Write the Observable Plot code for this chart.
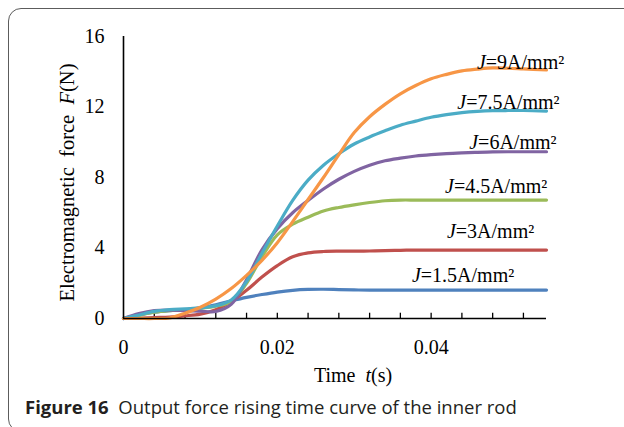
<!DOCTYPE html>
<html>
<head>
<meta charset="utf-8">
<script src="https://cdn.jsdelivr.net/npm/d3@7"></script>
<script src="https://cdn.jsdelivr.net/npm/@observablehq/plot@0.6"></script>
<style>
  html, body { margin: 0; padding: 0; background: #fff; }
  body { width: 624px; height: 427px; overflow: hidden; position: relative; }
  #frame { position: absolute; left: 8px; top: 8px; width: 700px; height: 424px;
           border: 1.5px solid #5c5c5c; border-radius: 13px; box-sizing: border-box; }
  #chart { position: absolute; left: 0; top: 0; }
  #caption { position: absolute; left: 25px; top: 398px; font-family: "Open Sans", sans-serif;
             font-size: 18.5px; line-height: 18.5px; color: #231f20; white-space: pre; letter-spacing: 0px; }
  #caption b { font-weight: 700; }
</style>
</head>
<body>
<div id="frame"></div>
<div id="chart"></div>
<div id="caption"><b>Figure 16</b>  Output force rising time curve of the inner rod</div>
<script>
// ---- data ----
const times = [0, 0.002, 0.004, 0.006, 0.008, 0.010, 0.012, 0.014, 0.016, 0.018, 0.020, 0.022, 0.024, 0.026,
               0.028, 0.030, 0.032, 0.034, 0.036, 0.038, 0.040, 0.042, 0.044, 0.046, 0.048, 0.050, 0.052, 0.055];
const forceJ15 = [0, 0.2, 0.36, 0.45, 0.5, 0.6, 0.78, 1.0, 1.2, 1.36, 1.5, 1.6, 1.65, 1.66,
                  1.64, 1.62, 1.61, 1.61, 1.61, 1.61, 1.61, 1.61, 1.61, 1.61, 1.61, 1.61, 1.61, 1.61];
const forceJ3  = [0, 0.02, 0.05, 0.08, 0.15, 0.25, 0.5, 0.95, 1.6, 2.35, 3.0, 3.5, 3.72, 3.8,
                  3.82, 3.82, 3.83, 3.85, 3.87, 3.88, 3.88, 3.88, 3.88, 3.88, 3.88, 3.88, 3.88, 3.88];
const forceJ45 = [0, 0.18, 0.36, 0.45, 0.5, 0.58, 0.7, 0.95, 2.0, 3.5, 4.75, 5.35, 5.75, 6.1,
                  6.3, 6.45, 6.58, 6.68, 6.72, 6.72, 6.72, 6.72, 6.72, 6.72, 6.72, 6.72, 6.72, 6.72];
const forceJ6  = [0, 0.28, 0.45, 0.48, 0.45, 0.42, 0.4, 0.8, 2.2, 3.9, 5.1, 6.0, 6.7, 7.35,
                  7.9, 8.35, 8.7, 8.95, 9.1, 9.22, 9.3, 9.36, 9.4, 9.43, 9.45, 9.46, 9.46, 9.46];
const forceJ75 = [0, 0.2, 0.4, 0.5, 0.55, 0.6, 0.72, 1.05, 2.1, 3.7, 5.25, 6.7, 7.85, 8.7,
                  9.35, 9.9, 10.3, 10.65, 10.97, 11.2, 11.42, 11.57, 11.68, 11.75, 11.79, 11.8, 11.8, 11.77];
const forceJ9  = [0, 0, 0, 0.03, 0.3, 0.64, 1.1, 1.7, 2.45, 3.3, 4.3, 5.5, 6.75, 8.0,
                  9.3, 10.55, 11.45, 12.15, 12.75, 13.22, 13.6, 13.85, 14.05, 14.15, 14.22, 14.2, 14.16, 14.1];

const seriesNames  = ["J=1.5A/mm²", "J=3A/mm²", "J=4.5A/mm²", "J=6A/mm²", "J=7.5A/mm²", "J=9A/mm²"];
const seriesValues = [forceJ15, forceJ3, forceJ45, forceJ6, forceJ75, forceJ9];
const seriesColors = ["#4F81BD", "#C0504D", "#9BBB59", "#8064A2", "#4BACC6", "#F79646"];
// label anchor (right end, vertical centre) in data units
const labelT = [0.0508, 0.0534, 0.0551, 0.0563, 0.0567, 0.0573];
const labelF = [2.44, 4.94, 7.46, 9.96, 12.23, 14.5];

const yTicks = [0, 4, 8, 12, 16];
const xTicks = [0, 0.02, 0.04];
const xTickLabels = ["0", "0.02", "0.04"];
const xMinorTicks = [0.004, 0.008, 0.012, 0.016, 0.020, 0.024, 0.028, 0.032, 0.036, 0.040, 0.044, 0.048, 0.052];

const yLabel = "Electromagnetic  force  *F*(N)";
const xLabel = "Time  *t*(s)";

// ---- tidy table ----
const rows = [];
seriesNames.forEach((name, i) => {
  times.forEach((t, j) => rows.push({series: name, t, F: seriesValues[i][j]}));
});
const labels = seriesNames.map((name, i) => ({series: name, t: labelT[i], F: labelF[i]}));

const chart = Plot.plot({
  width: 624,
  height: 395,
  marginLeft: 123,
  marginRight: 78,
  marginTop: 36,
  marginBottom: 77,
  style: {fontFamily: "'Liberation Serif', 'Times New Roman', serif", fontSize: "20px", color: "#000", background: "transparent", overflow: "visible"},
  x: {domain: [0, 0.055]},
  y: {domain: [0, 16]},
  color: {domain: seriesNames, range: seriesColors},
  marks: [
    Plot.axisY({ticks: yTicks, tickSize: 0, tickPadding: 19, tickFormat: d => String(d), label: null}),
    Plot.axisX({ticks: xTicks, tickSize: 0, tickPadding: 21, tickFormat: (d, i) => xTickLabels[i], label: null}),
    Plot.ruleX(xMinorTicks, {x: d => d, y1: 0, y2: 0.3, stroke: "#000", strokeWidth: 1.3}),
    Plot.line(rows, {x: "t", y: "F", z: "series", stroke: "series", strokeWidth: 3.2, curve: "catmull-rom"}),
    Plot.ruleX([0], {stroke: "#000", strokeWidth: 1.6}),
    Plot.ruleY([0], {stroke: "#000", strokeWidth: 1.6}),
    Plot.text(labels, {x: "t", y: "F", text: d => d.series.replace(/^J/, "*J*"), textAnchor: "end", lineAnchor: "middle", fill: "#000", fontSize: 20}),
    Plot.text([yLabel], {frameAnchor: "left", rotate: -90, dx: -56, dy: 5, textAnchor: "middle", lineAnchor: "middle", text: d => d, fill: "#000", fontSize: 20.5}),
    Plot.text([xLabel], {frameAnchor: "bottom", dx: 18, dy: 57, textAnchor: "middle", lineAnchor: "middle", text: d => d, fill: "#000", fontSize: 20})
  ]
});

// turn *...* segments into italic tspans
const ns = "http://www.w3.org/2000/svg";
d3.select(chart).selectAll("text").each(function() {
  const s = this.textContent;
  if (!s.includes("*")) return;
  this.textContent = "";
  this.style.whiteSpace = "pre";
  s.split("*").forEach((seg, i) => {
    if (!seg) return;
    const ts = document.createElementNS(ns, "tspan");
    ts.textContent = seg;
    if (i % 2) ts.setAttribute("font-style", "italic");
    this.appendChild(ts);
  });
});

document.getElementById("chart").appendChild(chart);
</script>
</body>
</html>
